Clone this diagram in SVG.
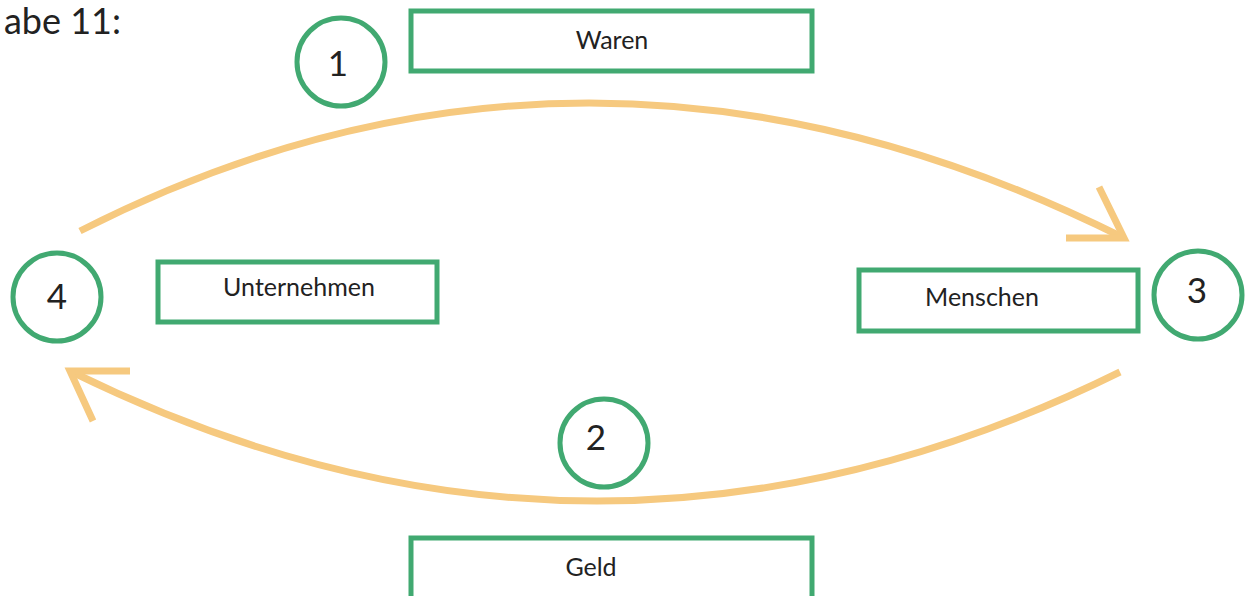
<svg xmlns="http://www.w3.org/2000/svg" width="1247" height="596" viewBox="0 0 1247 596">
<style>
.box{fill:none;stroke:#41a971;stroke-width:5}
.circ{fill:#fff;stroke:#41a971;stroke-width:5}
.lbl{font-family:Lato,"Liberation Sans",sans-serif;font-size:25px;fill:#222;text-anchor:middle}
.num{font-family:Lato,"Liberation Sans",sans-serif;font-size:35px;fill:#222;text-anchor:middle}
.arc{fill:none;stroke:#f6c97f;stroke-width:7}
</style>
<rect width="1247" height="596" fill="#fff"/>
<text x="121" y="34" style="font-family:Lato,'Liberation Sans',sans-serif;font-size:36px;fill:#222;text-anchor:end">abe 11:</text>
<g id="connectors">
<path class="arc" d="M80,231 Q589,-28 1122,237"/>
<path class="arc" d="M1066,238 L1124,238 L1099,187"/>
<path class="arc" d="M1120,372 Q598,630 72,372"/>
<path class="arc" d="M130,371 L70,371 L93,421"/>
</g>
<g id="n1"><circle class="circ" cx="341" cy="62" r="44"/><text class="num" x="338" y="76">1</text></g>
<g id="waren"><rect class="box" x="411" y="11" width="401" height="60"/><text class="lbl" x="612" y="49">Waren</text></g>
<g id="n4"><circle class="circ" cx="57" cy="297" r="44"/><text class="num" x="57" y="309">4</text></g>
<g id="unternehmen"><rect class="box" x="158" y="262" width="279" height="60"/><text class="lbl" x="299" y="296">Unternehmen</text></g>
<g id="menschen"><rect class="box" x="859" y="270" width="279" height="61"/><text class="lbl" x="982" y="306">Menschen</text></g>
<g id="n3"><circle class="circ" cx="1198" cy="295" r="44"/><text class="num" x="1197" y="303">3</text></g>
<g id="n2"><circle class="circ" cx="604" cy="443" r="44"/><text class="num" x="596" y="450">2</text></g>
<g id="geld"><rect class="box" x="411" y="538" width="401" height="70"/><text class="lbl" x="591" y="576">Geld</text></g>
</svg>
